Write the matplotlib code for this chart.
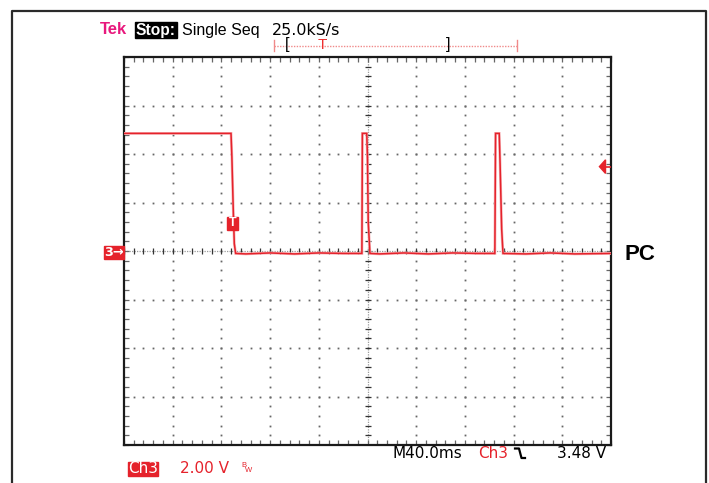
import numpy as np
import matplotlib
matplotlib.use("Agg")
import matplotlib.pyplot as plt
from matplotlib.lines import Line2D
from matplotlib.patches import Rectangle, Polygon

# ---- data (time in ms from left edge of screen, voltage in V) ----
time_ms = [0, 87.9, 88.6, 89.8, 90.6, 91.7, 100, 120, 140, 160, 180,
           195.4, 195.8, 199.4, 200.0, 200.6, 202.0, 210, 230, 250, 270, 290,
           304.6, 305.2, 308.2, 308.9, 310.2, 311.3, 330, 350, 370, 400]
volts = [4.85, 4.85, 3.9, 1.6, 0.3, -0.1, -0.12, -0.08, -0.12, -0.08, -0.1,
         -0.1, 4.85, 4.85, 3.8, 1.2, -0.1, -0.12, -0.08, -0.12, -0.08, -0.1,
         -0.1, 4.85, 4.85, 3.6, 0.9, -0.1, -0.12, -0.08, -0.12, -0.1]

time_per_div = 40.0     # ms/div  (M40.0ms)
volt_per_div = 2.0      # V/div   (Ch3 2.00 V)
n_xdiv, n_ydiv = 10, 8
trigger_level = 3.48

header_texts = ["Tek", "Stop:", "Single Seq", "25.0kS/s"]
footer_texts = ["M40.0ms", "Ch3", "3.48 V", "Ch3", "2.00 V"]
channel_label = "PC"

W, H = 709, 483
fig = plt.figure(figsize=(W / 100, H / 100), dpi=100)
fig.patch.set_facecolor("white")

def fx(px):
    return px / W

def fy(py):
    return 1 - py / H

# plot area in pixels
L, R, T, B = 124, 611, 57, 445
ax = fig.add_axes([fx(L), fy(B), (R - L) / W, (B - T) / H])
xmax = time_per_div * n_xdiv
ymax = volt_per_div * n_ydiv / 2
ax.set_xlim(0, xmax)
ax.set_ylim(-ymax, ymax)

xmaj = np.arange(0, xmax + 1e-9, time_per_div)
ymaj = np.arange(-ymax, ymax + 1e-9, volt_per_div)
xmin = np.arange(0, xmax + 1e-9, time_per_div / 5)
ymin = np.arange(-ymax, ymax + 1e-9, volt_per_div / 5)
ax.set_xticks(xmaj)
ax.set_yticks(ymaj)
ax.set_xticks(xmin, minor=True)
ax.set_yticks(ymin, minor=True)
ax.tick_params(which="both", direction="in", length=3.5, width=0.9,
               color="#666", top=True, right=True,
               labelbottom=False, labelleft=False)
for s in ax.spines.values():
    s.set_linewidth(1.6)
    s.set_color("#1a1a1a")

xc = xmax / 2
# graticule dots on major lines
for xv in xmaj[1:-1]:
    if abs(xv - xc) < 1e-9:
        continue
    ax.plot(np.full(len(ymin), xv), ymin, ls="none", marker="s", ms=1.3,
            mew=0, color="#666", zorder=1)
for yv in ymaj[1:-1]:
    if abs(yv) < 1e-9:
        continue
    ax.plot(xmin, np.full(len(xmin), yv), ls="none", marker="s", ms=1.3,
            mew=0, color="#666", zorder=1)
# centre cross
ax.axhline(0, color="#9a9a9a", lw=0.9, ls=(0, (1, 1)), zorder=1)
ax.axvline(xc, color="#9a9a9a", lw=0.9, ls=(0, (1, 1)), zorder=1)
ax.plot(xmin, np.zeros(len(xmin)), ls="none", marker="|", ms=5, mew=0.9,
        color="#333", zorder=1)
ax.plot(np.full(len(ymin), xc), ymin, ls="none", marker="_", ms=5, mew=0.9,
        color="#333", zorder=1)

# trace
ax.plot(time_ms, volts, color="#f7b5b8", lw=2.0, zorder=3,
        solid_joinstyle="miter")
ax.plot(time_ms, volts, color="#e5222b", lw=1.1, zorder=4,
        solid_joinstyle="miter")

# trigger level arrow (right edge)
ax.add_patch(Polygon([[xmax - 9.5, trigger_level],
                      [xmax - 4.5, trigger_level + 0.28],
                      [xmax - 4.5, trigger_level - 0.28]],
                     closed=True, color="#e5222b", clip_on=False, zorder=5))
ax.plot([xmax - 5, xmax], [trigger_level, trigger_level], color="#e5222b",
        lw=1.2, zorder=5)

ax.set_facecolor("white")

fs = 11.2
font = "Liberation Sans"
dfont = "DejaVu Sans"

def ftext(px, py, s, **kw):
    kw.setdefault("family", font)
    kw.setdefault("fontsize", fs)
    kw.setdefault("va", "center")
    return fig.text(fx(px), fy(py), s, **kw)

# header
ftext(100, 30, header_texts[0], color="#e8197d", fontweight="bold",
      fontsize=12)
fig.patches.append(Rectangle((fx(135), fy(38)), (177 - 135) / W, 16 / H,
                             transform=fig.transFigure, color="black"))
ftext(136, 30, header_texts[1], color="white", fontweight="bold")
ftext(182, 30, header_texts[2], color="black", fontsize=11.5)
ftext(272, 30, header_texts[3], color="black", family=dfont, fontsize=11.4)

# record bar
fig.lines.append(Line2D([fx(274), fx(517)], [fy(45.5), fy(45.5)],
                        transform=fig.transFigure, color="#f08a8a", lw=1,
                        ls=(0, (1, 1))))
for bx in (274, 517):
    fig.lines.append(Line2D([fx(bx), fx(bx)], [fy(40), fy(51)],
                            transform=fig.transFigure, color="#f08a8a", lw=1))
ftext(285, 45, "[", color="black", fontsize=12)
ftext(446, 45, "]", color="black", fontsize=12)
ftext(318, 45, "T", color="#ee3030", fontsize=11)

# footer row 1
ftext(393, 453.5, footer_texts[0], color="black", family=dfont, fontsize=11)
ftext(478, 453.5, footer_texts[1], color="#e5222b", family=dfont, fontsize=11)
fig.lines.append(Line2D([fx(515), fx(519), fx(521.5), fx(525)],
                        [fy(448.5), fy(448.5), fy(458), fy(458)],
                        transform=fig.transFigure, color="black", lw=1.6))
ftext(557, 453.5, footer_texts[2], color="black", family=dfont, fontsize=11)

# footer row 2
fig.patches.append(Rectangle((fx(127.5), fy(475.5)), (158 - 127.5) / W, 14 / H,
                             transform=fig.transFigure, color="#e5222b"))
ftext(128, 468.5, footer_texts[3], color="white", family=dfont, fontsize=11)
ftext(180, 468.5, footer_texts[4], color="#e5222b", family=dfont, fontsize=11)
ftext(241, 465.5, "B", color="#e5222b", fontsize=5.5)
ftext(245, 470.5, "W", color="#e5222b", fontsize=5.5)

# channel ground marker "3->"
fig.patches.append(Rectangle((fx(104), fy(258.5)), (124 - 104) / W, 13 / H,
                             transform=fig.transFigure, color="#e5222b"))
ftext(104.5, 252, "3\u2192", color="white", fontsize=9.3, fontweight="bold",
      family=[dfont])

# trigger point marker on trace
fig.patches.append(Rectangle((fx(227), fy(230)), 11.5 / W, 13 / H,
                             transform=fig.transFigure, color="#e5222b",
                             zorder=6))
ftext(232.7, 223.5, "T", color="white", fontsize=9, fontweight="bold",
      ha="center", zorder=7)

# channel label
ftext(624, 254.5, channel_label, color="black", fontsize=16, fontweight="bold")

# outer frame
fig.lines.append(Line2D([fx(12), fx(12), fx(706), fx(706)],
                        [fy(483), fy(10.5), fy(10.5), fy(483)],
                        transform=fig.transFigure, color="#2a2a2a", lw=1.6))

fig.savefig("out.png", dpi=100)
